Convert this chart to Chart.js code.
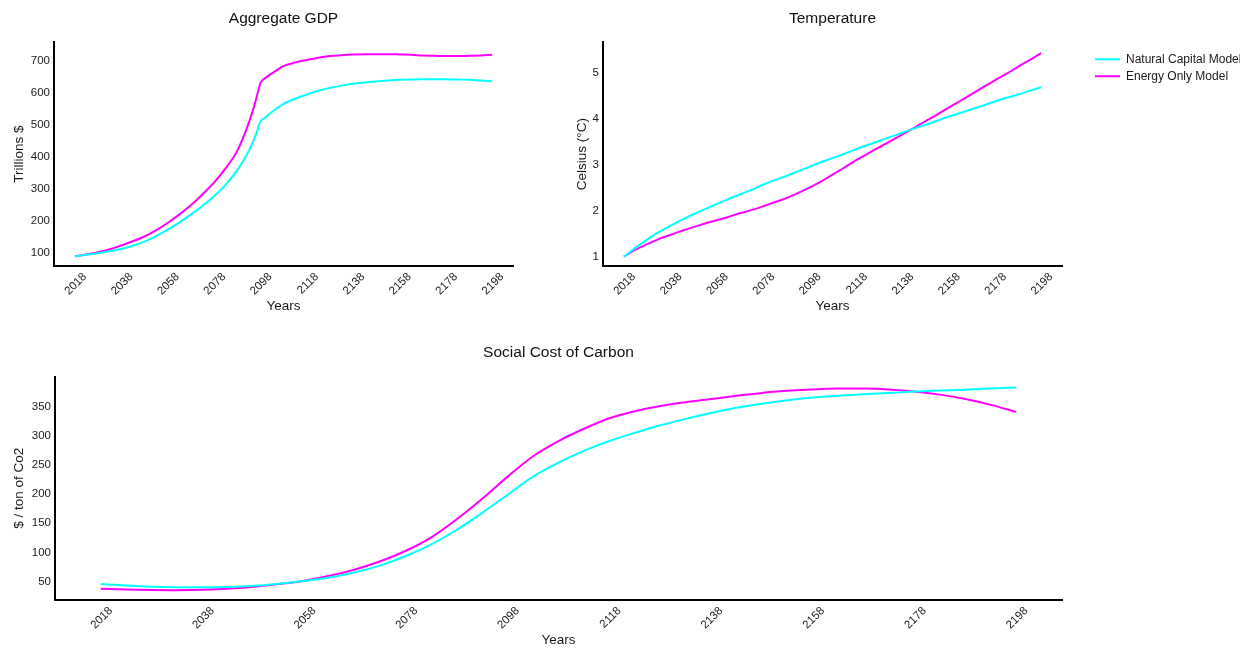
<!DOCTYPE html>
<html>
<head>
<meta charset="utf-8">
<script src="https://cdn.jsdelivr.net/npm/chart.js@4.4.1/dist/chart.umd.min.js"></script>
<style>
  body { margin: 0; background: #fff; width: 1246px; height: 648px; overflow: hidden; position: relative; }
  .box { position: absolute; }
</style>
</head>
<body>
<div class="box" style="left:0; top:0; width:530px; height:320px;"><canvas id="gdpChart"></canvas></div>
<div class="box" style="left:550px; top:0; width:696px; height:320px;"><canvas id="tempChart"></canvas></div>
<div class="box" style="left:0; top:334px; width:1080px; height:314px;"><canvas id="sccChart"></canvas></div>
<script>
// model years, 5 year steps
const years = [2018, 2023, 2028, 2033, 2038, 2043, 2048, 2053, 2058, 2063, 2068, 2073, 2078,
    2083, 2088, 2093, 2098, 2103, 2108, 2113, 2118, 2123, 2128, 2133, 2138, 2143, 2148,
    2153, 2158, 2163, 2168, 2173, 2178, 2183, 2188, 2193, 2198];
// gdp has a few extra readings around the break in 2098
const gdpYears = [2018, 2023, 2028, 2033, 2038, 2043, 2048, 2053, 2058, 2063, 2068, 2073, 2078,
    2083, 2088, 2093, 2096, 2098, 2100, 2103, 2108, 2113, 2118, 2123, 2128, 2133, 2138, 2143,
    2148, 2153, 2158, 2163, 2168, 2173, 2178, 2183, 2188, 2193, 2198];
const yearTicks = [2018, 2038, 2058, 2078, 2098, 2118, 2138, 2158, 2178, 2198];
const seriesNames = ['Natural Capital Model', 'Energy Only Model'];

// Aggregate GDP, trillions $
const gdpNatural = [90, 95, 100, 106, 113, 123, 136, 153, 173, 195, 220, 247, 277, 313, 358, 418,
    468, 509, 522, 540, 565, 581, 594, 606, 615, 622, 628, 632, 635, 638, 640, 641, 642, 642, 642,
    641, 640, 638, 636];
const gdpEnergy = [90, 96, 103, 112, 124, 137, 152, 171, 194, 220, 249, 283, 320, 364, 418, 505,
    575, 629, 645, 660, 683, 694, 702, 709, 714, 717, 719, 720, 720, 720, 719, 718, 716, 715, 714,
    714, 715, 716, 718];
const gdpTicks = [100, 200, 300, 400, 500, 600, 700];

// Temperature, celsius
const tempNatural = [1.00, 1.19, 1.37, 1.53, 1.67, 1.80, 1.92, 2.03, 2.14, 2.25, 2.35, 2.45, 2.56,
    2.66, 2.75, 2.85, 2.95, 3.05, 3.14, 3.23, 3.33, 3.42, 3.51, 3.60, 3.69, 3.78, 3.86, 3.95,
    4.04, 4.12, 4.20, 4.28, 4.37, 4.45, 4.52, 4.60, 4.68];
const tempEnergy = [1.00, 1.15, 1.27, 1.38, 1.47, 1.56, 1.64, 1.72, 1.79, 1.86, 1.94, 2.01, 2.09,
    2.18, 2.27, 2.38, 2.50, 2.63, 2.78, 2.93, 3.09, 3.23, 3.37, 3.51, 3.65, 3.79, 3.94, 4.08,
    4.23, 4.38, 4.53, 4.68, 4.83, 4.97, 5.12, 5.27, 5.42];
const tempTicks = [1, 2, 3, 4, 5];

// Social cost of carbon, $ / ton
const sccNatural = [46, 43.5, 41.5, 40.5, 40.3, 41, 43, 46.5, 51, 57, 66, 78, 94, 114, 139, 168,
    199, 230, 254, 274, 291, 305, 318, 329, 339, 348, 355, 361, 365.5, 368.5, 371, 373.5, 375.7,
    377.5, 379, 381, 382.6];
const sccEnergy = [38, 36.5, 35.7, 35.5, 36.2, 38, 41.4, 46, 51.7, 60, 71, 85, 103, 126, 157, 192,
    230, 265, 291, 312, 330, 342, 351, 357.5, 363, 368.5, 373.5, 377, 379.5, 380.8, 381, 379.5,
    376, 370.5, 363, 353, 341];
const sccTicks = [50, 100, 150, 200, 250, 300, 350];

Chart.defaults.font.family = "'Liberation Sans', Arial, sans-serif";
Chart.defaults.color = '#1a1a1a';

const CYAN = '#00ffff';
const MAGENTA = '#ff00ff';

function lineDataset(label, xs, values, color) {
    return {
        label: label,
        data: xs.map((yr, i) => ({ x: yr, y: values[i] })),
        borderColor: color,
        backgroundColor: color,
        borderWidth: 2,
        pointRadius: 0,
        fill: false,
        cubicInterpolationMode: 'monotone'
    };
}

function makeScales(o) {
    return {
        x: {
            type: 'linear',
            min: 2009,
            max: 2207,
            grid: { display: false, drawTicks: false },
            border: { display: true, color: '#000', width: 2 },
            afterBuildTicks: s => { s.ticks = yearTicks.map(v => ({ value: v })); },
            afterFit: s => { s.height = o.xHeight; },
            ticks: {
                autoSkip: false, minRotation: 45, maxRotation: 45,
                padding: 4, labelOffset: 10,
                font: { size: 11.5 },
                callback: v => String(v)
            },
            title: { display: true, text: 'Years', font: { size: 13.5 }, padding: { top: 0, bottom: o.xTitlePad } }
        },
        y: {
            min: o.yMin,
            max: o.yMax,
            grid: { display: false, drawTicks: false },
            border: { display: true, color: '#000', width: 2 },
            afterBuildTicks: s => { s.ticks = o.yTicks.map(v => ({ value: v })); },
            afterFit: s => { s.width = o.yWidth; },
            ticks: { padding: 4, font: { size: 11.5 }, callback: v => String(v) },
            title: { display: true, text: o.yLabel, font: { size: 13.5 }, padding: { top: o.yTitlePad, bottom: 0 } }
        }
    };
}

function makeTitle(text, bottomPad) {
    return {
        display: true, text: text, fullSize: false, color: '#111',
        font: { size: 15.5, weight: 'normal' },
        padding: { top: 9, bottom: bottomPad }
    };
}

// push the legend out to where the reference has it
const legendNudge = {
    id: 'legendNudge',
    afterLayout(chart) {
        const lg = chart.legend;
        if (!lg) return;
        lg.left += 28; lg.right += 28;
        lg.top += 6; lg.bottom += 6;
    }
};

// aggregate gdp
new Chart(document.getElementById('gdpChart'), {
    type: 'line',
    data: {
        datasets: [
            lineDataset(seriesNames[0], gdpYears, gdpNatural, CYAN),
            lineDataset(seriesNames[1], gdpYears, gdpEnergy, MAGENTA)
        ]
    },
    options: {
        responsive: true, maintainAspectRatio: false, animation: false,
        layout: { padding: { left: 0, right: 17, top: 0, bottom: 0 } },
        scales: makeScales({ yMin: 60, yMax: 757, yTicks: gdpTicks, yLabel: 'Trillions $',
            yTitlePad: 11, yWidth: 54, xHeight: 54, xTitlePad: 6 }),
        plugins: {
            legend: { display: false },
            title: makeTitle('Aggregate GDP', 14.7),
            tooltip: { enabled: false }
        }
    }
});

// temperature
new Chart(document.getElementById('tempChart'), {
    type: 'line',
    data: {
        datasets: [
            lineDataset(seriesNames[0], years, tempNatural, CYAN),
            lineDataset(seriesNames[1], years, tempEnergy, MAGENTA)
        ]
    },
    options: {
        responsive: true, maintainAspectRatio: false, animation: false,
        layout: { padding: { left: 0, right: 34, top: 0, bottom: 0 } },
        scales: makeScales({ yMin: 0.796, yMax: 5.655, yTicks: tempTicks, yLabel: 'Celsius (°C)',
            yTitlePad: 24, yWidth: 53, xHeight: 54, xTitlePad: 6 }),
        plugins: {
            legend: {
                display: true, position: 'right', align: 'start', fullSize: false, maxWidth: 150,
                labels: {
                    usePointStyle: true, pointStyle: 'line', pointStyleWidth: 25,
                    padding: 5, font: { size: 12 }, color: '#1a1a1a'
                }
            },
            title: makeTitle('Temperature', 14.7),
            tooltip: { enabled: false }
        }
    },
    plugins: [legendNudge]
});

// social cost of carbon
new Chart(document.getElementById('sccChart'), {
    type: 'line',
    data: {
        datasets: [
            lineDataset(seriesNames[0], years, sccNatural, CYAN),
            lineDataset(seriesNames[1], years, sccEnergy, MAGENTA)
        ]
    },
    options: {
        responsive: true, maintainAspectRatio: false, animation: false,
        layout: { padding: { left: 0, right: 18, top: 0, bottom: 0 } },
        scales: makeScales({ yMin: 18.6, yMax: 401.4, yTicks: sccTicks, yLabel: '$ / ton of Co2',
            yTitlePad: 11, yWidth: 55, xHeight: 48, xTitlePad: 0 }),
        plugins: {
            legend: { display: false },
            title: makeTitle('Social Cost of Carbon', 15),
            tooltip: { enabled: false }
        }
    }
});
</script>
</body>
</html>
